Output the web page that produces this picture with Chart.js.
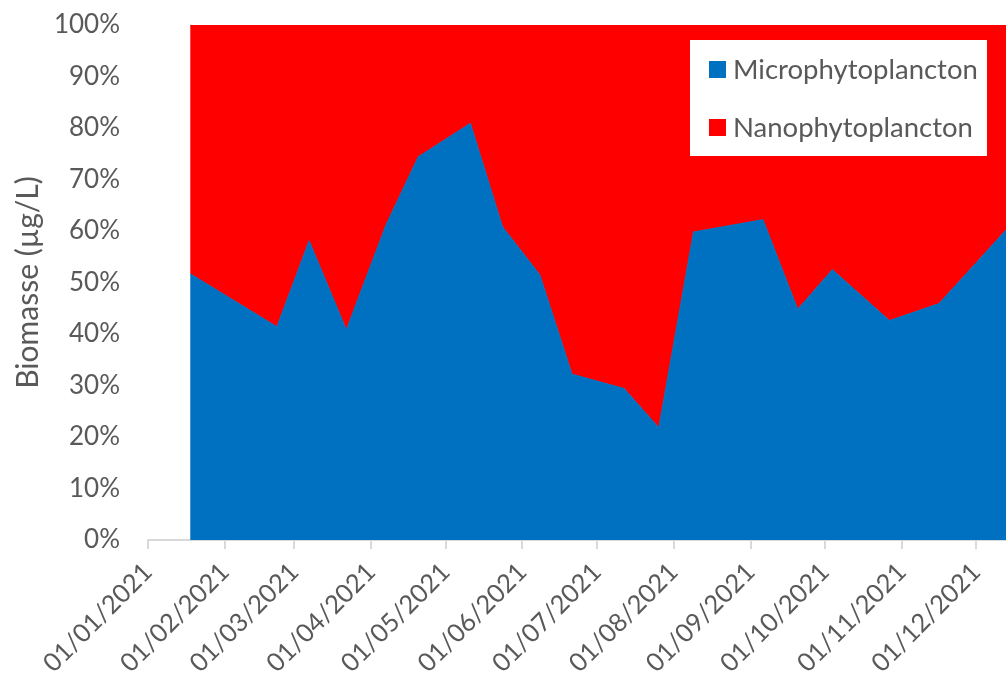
<!DOCTYPE html>
<html>
<head>
<meta charset="utf-8">
<title>Biomasse phytoplancton 2021</title>
<script src="https://cdn.jsdelivr.net/npm/chart.js@4/dist/chart.umd.min.js"></script>
<style>
  html, body { margin: 0; padding: 0; background: #fff; }
  #wrap { position: relative; width: 1006px; height: 679px; }
</style>
</head>
<body>
<div id="wrap"><canvas id="chart"></canvas></div>
<script>
// sampling dates and share of each fraction (%)
const sampleDates = [
  '2021-01-18', '2021-02-22', '2021-03-07', '2021-03-22', '2021-04-07',
  '2021-04-20', '2021-05-11', '2021-05-24', '2021-06-08', '2021-06-21',
  '2021-07-12', '2021-07-26', '2021-08-09', '2021-09-06', '2021-09-20',
  '2021-10-04', '2021-10-27', '2021-11-16', '2021-12-13'
];
const microValues = [51.7, 41.4, 58.1, 40.8, 61.2, 74.4, 80.9, 60.8, 51.5, 32.2,
                     29.4, 21.8, 59.8, 62.2, 44.8, 52.5, 42.6, 45.9, 60.2];
const nanoValues  = [48.3, 58.6, 41.9, 59.2, 38.8, 25.6, 19.1, 39.2, 48.5, 67.8,
                     70.6, 78.2, 40.2, 37.8, 55.2, 47.5, 57.4, 54.1, 39.8];

const tickDates = [
  '2021-01-01', '2021-02-01', '2021-03-01', '2021-04-01', '2021-05-01', '2021-06-01',
  '2021-07-01', '2021-08-01', '2021-09-01', '2021-10-01', '2021-11-01', '2021-12-01'
];
const tickLabels = [
  '01/01/2021', '01/02/2021', '01/03/2021', '01/04/2021', '01/05/2021', '01/06/2021',
  '01/07/2021', '01/08/2021', '01/09/2021', '01/10/2021', '01/11/2021', '01/12/2021'
];

const seriesNames = ['Microphytoplancton', 'Nanophytoplancton'];
const seriesColors = ['#0070C0', '#FF0000'];

// days since 1 Jan 2021
const dayOf = s => {
  const [y, m, d] = s.split('-').map(Number);
  return (Date.UTC(y, m - 1, d) - Date.UTC(2021, 0, 1)) / 86400000;
};
const xs = sampleDates.map(dayOf);
const tickDays = tickDates.map(dayOf);

const textColor = '#595959';
const fontFamily = 'Lato, "Noto Sans", sans-serif';

// legend drawn as a white box inside the plot area
const boxLegend = {
  id: 'boxLegend',
  afterDraw(chart) {
    const { ctx, chartArea } = chart;
    const left = chartArea.right - 316, top = chartArea.top + 15;
    ctx.save();
    ctx.fillStyle = '#ffffff';
    ctx.fillRect(left, top, 297, 116);
    ctx.font = '27.5px ' + fontFamily;
    ctx.textBaseline = 'middle';
    chart.data.datasets.forEach((ds, i) => {
      const cy = top + 30 + i * 58;
      ctx.fillStyle = ds.backgroundColor;
      ctx.fillRect(left + 19, cy - 9, 17, 17);
      ctx.fillStyle = textColor;
      ctx.fillText(ds.label, left + 43, cy);
    });
    ctx.restore();
  }
};

new Chart(document.getElementById('chart'), {
  type: 'line',
  data: {
    datasets: [
      {
        label: seriesNames[0],
        data: xs.map((x, i) => ({ x, y: microValues[i] })),
        backgroundColor: seriesColors[0],
        borderColor: seriesColors[0],
        borderWidth: 1,
        pointRadius: 0,
        fill: 'origin',
        tension: 0
      },
      {
        label: seriesNames[1],
        data: xs.map((x, i) => ({ x, y: nanoValues[i] })),
        backgroundColor: seriesColors[1],
        borderColor: seriesColors[1],
        borderWidth: 1,
        pointRadius: 0,
        fill: '-1',
        tension: 0
      }
    ]
  },
  options: {
    responsive: true,
    maintainAspectRatio: false,
    animation: false,
    layout: { padding: { top: 25, right: 0, left: 0, bottom: 0 } },
    plugins: {
      legend: { display: false },
      tooltip: { enabled: false }
    },
    scales: {
      x: {
        type: 'linear',
        min: tickDays[0],
        max: xs[xs.length - 1],
        afterBuildTicks: scale => {
          scale.ticks = tickDays.map(v => ({ value: v }));
        },
        afterFit: scale => {
          scale.height = 139;
          scale.paddingTop = 0;
        },
        border: { display: true, color: '#d9d9d9', width: 2 },
        grid: {
          display: true,
          drawOnChartArea: false,
          drawTicks: true,
          tickLength: 9,
          color: '#d9d9d9',
          lineWidth: 2
        },
        ticks: {
          autoSkip: false,
          minRotation: 45,
          maxRotation: 45,
          padding: 8,
          color: textColor,
          font: { family: fontFamily, size: 25.5 },
          callback: (v, i) => tickLabels[i]
        }
      },
      y: {
        stacked: true,
        min: 0,
        max: 100,
        afterFit: scale => {
          scale.width = 148;
          scale.paddingTop = 0;
        },
        border: { display: false },
        grid: { display: false, drawTicks: false },
        ticks: {
          stepSize: 10,
          padding: 28,
          color: textColor,
          font: { family: fontFamily, size: 26 },
          callback: v => v + '%'
        },
        title: {
          display: true,
          text: 'Biomasse (µg/L)',
          color: textColor,
          font: { family: fontFamily, size: 30 },
          padding: { top: 10, bottom: 0 }
        }
      }
    }
  },
  plugins: [boxLegend]
});
</script>
</body>
</html>
